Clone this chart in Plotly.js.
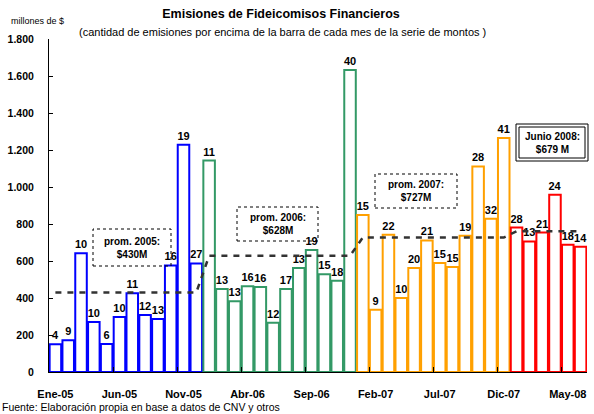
<!DOCTYPE html>
<html>
<head>
<meta charset="utf-8">
<script src="https://cdn.plot.ly/plotly-3.0.1.min.js"></script>
<style>html,body{margin:0;padding:0;background:#fff;}#chart{width:594px;height:414px;}</style>
</head>
<body>
<div id="chart"></div>
<script>
// ---- Data ----
const meses = ["Ene-05","Feb-05","Mar-05","Abr-05","May-05","Jun-05","Jul-05","Ago-05","Sep-05","Oct-05","Nov-05","Dic-05",
               "Ene-06","Feb-06","Mar-06","Abr-06","May-06","Jun-06","Jul-06","Ago-06","Sep-06","Oct-06","Nov-06","Dic-06",
               "Ene-07","Feb-07","Mar-07","Abr-07","May-07","Jun-07","Jul-07","Ago-07","Sep-07","Oct-07","Nov-07","Dic-07",
               "Ene-08","Feb-08","Mar-08","Abr-08","May-08","Jun-08"];
const montos = [150,171,642,270,151,297,426,308,286,576,1229,587,
                1143,448,382,463,459,266,448,562,659,529,493,1633,
                848,337,742,400,562,711,589,567,736,1111,828,1265,
                781,706,754,958,688,677];
const cantidad = [4,9,10,10,6,10,11,12,13,16,19,27,
                  11,13,13,16,16,12,17,13,19,15,18,40,
                  15,9,22,10,20,21,15,15,19,28,32,41,
                  28,13,21,24,18,14];
const anios = ["05","06","07","08"];
const promedios = [430,628,727,761];
const coloresAnio = ["#0000FF","#339966","#FFA000","#FF0000"];
const cajas = [
  {texto:"prom. 2005:<br>$430M"},
  {texto:"prom. 2006:<br>$628M"},
  {texto:"prom. 2007:<br>$727M"},
  {texto:"Junio 2008:<br>$679 M"}
];

// ---- Derived ----
const anioDe = m => anios.indexOf(m.slice(-2));
const lineColors = meses.map(m => coloresAnio[anioDe(m)]);
const promLinea = meses.map(m => promedios[anioDe(m)]);

// pixel -> paper helpers (plot area: x 49..587, y 39..372)
const L=49, R=587, T=39, B=372;
const px = x => (x - L) / (R - L);
const py = y => (B - y) / (B - T);

const bold = {family:"Liberation Sans, Arial, sans-serif", weight:"bold", color:"#000"};
const plain = "Liberation Sans, Arial, sans-serif";

const traces = [
  {
    type:"bar", x:meses, y:montos, text:cantidad.map(String),
    textposition:"outside", cliponaxis:false, constraintext:"none",
    textfont:Object.assign({size:11}, bold),
    marker:{color:"#FFFFFF", line:{color:lineColors, width:2}},
    hoverinfo:"skip"
  },
  {
    type:"scatter", mode:"lines", x:meses, y:promLinea,
    line:{color:"#333333", width:2.5, dash:"6px,6px"},
    hoverinfo:"skip"
  }
];

const boxPos = [
  {x0:93,x1:171,y0:229,y1:266},
  {x0:237,x1:318,y0:207,y1:241},
  {x0:375,x1:457,y0:174,y1:208},
  {x0:516,x1:588,y0:124,y1:161}
];

const shapes = [];
const annotations = [];
boxPos.forEach((b,i) => {
  if (i < 3) {
    shapes.push({type:"rect", xref:"paper", yref:"paper", x0:px(b.x0), x1:px(b.x1), y0:py(b.y1), y1:py(b.y0),
      line:{color:"#000", width:1, dash:"dot"}, fillcolor:"rgba(255,255,255,0)", layer:"above"});
  } else {
    shapes.push({type:"rect", xref:"paper", yref:"paper", x0:px(b.x0), x1:px(b.x1), y0:py(b.y1), y1:py(b.y0),
      line:{color:"#000", width:1}, fillcolor:"#FFFFFF", layer:"above"});
    shapes.push({type:"rect", xref:"paper", yref:"paper", x0:px(b.x0+3), x1:px(b.x1-3), y0:py(b.y1-3), y1:py(b.y0+3),
      line:{color:"#000", width:1}, fillcolor:"rgba(0,0,0,0)", layer:"above"});
  }
  annotations.push({xref:"paper", yref:"paper", x:px((b.x0+b.x1)/2), y:py((b.y0+b.y1)/2),
    xanchor:"center", yanchor:"middle", showarrow:false, text:cajas[i].texto,
    font:Object.assign({size:10}, bold)});
});

annotations.push({xref:"paper", yref:"paper", x:px(282), y:py(32), xanchor:"center", yanchor:"middle", showarrow:false,
  text:"(cantidad de emisiones por encima de la barra de cada mes de la serie de montos )",
  font:{family:plain, size:11, color:"#000"}});
annotations.push({xref:"paper", yref:"paper", x:px(9), y:py(21), xanchor:"left", yanchor:"middle", showarrow:false,
  text:"millones de $", font:{family:plain, size:9, color:"#000"}});
annotations.push({xref:"paper", yref:"paper", x:px(0), y:py(407), xanchor:"left", yanchor:"middle", showarrow:false,
  text:"Fuente: Elaboración propia en base a datos de CNV y otros", font:{family:plain, size:10.5, color:"#000"}});

const layout = {
  width:594, height:414,
  margin:{l:L, r:594-R, t:T, b:414-B, pad:0},
  paper_bgcolor:"#FFFFFF", plot_bgcolor:"#FFFFFF",
  showlegend:false, bargap:0.1, separators:",.",
  title:{text:"Emisiones de Fideicomisos Financieros", x:281/594, xanchor:"center", y:1-14/414, yanchor:"middle",
    font:Object.assign({size:12.5}, bold)},
  xaxis:{type:"category", tickmode:"linear", tick0:0, dtick:5, tickson:"boundaries",
    ticks:"inside", ticklen:5, tickcolor:"#000", showline:true, linecolor:"#000", linewidth:1,
    showgrid:false, zeroline:false, tickangle:0, ticklabelstandoff:12,
    tickfont:Object.assign({size:11}, bold)},
  yaxis:{range:[0,1800], tick0:0, dtick:200, separatethousands:true, tickformat:",d",
    ticks:"inside", ticklen:4, tickcolor:"#000", showline:true, linecolor:"#000", linewidth:1,
    showgrid:false, zeroline:false, ticklabelstandoff:12,
    tickfont:Object.assign({size:10.5}, bold)},
  shapes:shapes, annotations:annotations
};

Plotly.newPlot("chart", traces, layout, {displayModeBar:false, staticPlot:true});
</script>
</body>
</html>
